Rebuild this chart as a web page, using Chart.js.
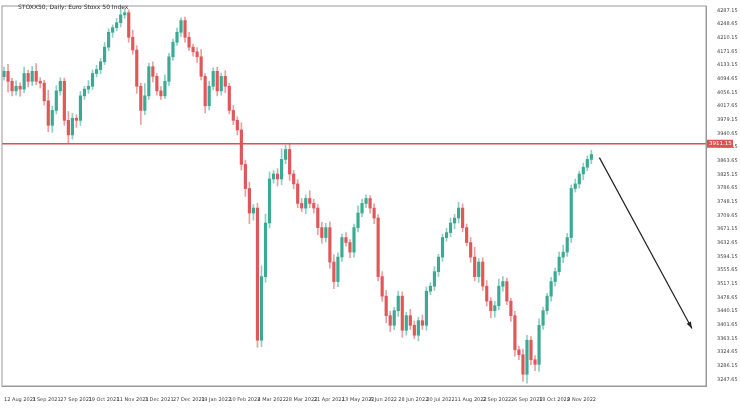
<!DOCTYPE html>
<html><head><meta charset="utf-8">
<script src="https://cdn.jsdelivr.net/npm/chart.js@4/dist/chart.umd.min.js"></script>
<style>
html,body{margin:0;padding:0;background:#fff;}
#wrap{position:relative;width:740px;height:408px;}
#title{position:absolute;left:18px;top:3px;font:6px "DejaVu Sans",sans-serif;color:#333;}
</style></head><body>
<div id="wrap"><canvas id="c" width="740" height="408"></canvas>
<div id="title">STOXX50, Daily: Euro Stoxx 50 Index</div></div>
<script>
const closes=[4115,4087,4060,4073,4065,4109,4087,4115,4087,4082,4032,3963,4005,4060,4087,3977,3936,3983,3977,4046,4065,4073,4109,4120,4142,4183,4225,4238,4252,4274,4280,4211,4175,4073,4005,4046,4128,4101,4060,4046,4087,4156,4197,4225,4258,4211,4183,4170,4156,4101,4018,4073,4115,4060,4101,4073,4005,3977,3950,3853,3785,3716,3730,3358,3537,3688,3812,3826,3812,3867,3895,3826,3798,3743,3730,3757,3743,3730,3675,3647,3675,3578,3523,3592,3647,3633,3606,3675,3716,3743,3757,3730,3702,3537,3482,3427,3400,3441,3482,3386,3427,3400,3372,3413,3400,3496,3510,3551,3592,3647,3661,3688,3702,3730,3675,3633,3592,3537,3578,3510,3468,3441,3455,3510,3523,3468,3427,3331,3317,3262,3358,3303,3290,3400,3441,3482,3523,3551,3592,3606,3647,3785,3798,3826,3845,3867,3881];
const upWick=[12,20,8,15,10,18,9,14,22,10,8,30,12,15,10,9,25,14,10,12,8,16,10,12,9,14,10,8,12,16,10,8,20,12,9,35,10,14,8,12,18,10,9,12,8,10,14,9,12,20,8,14,10,12,9,16,8,14,10,20,12,18,10,14,30,25,20,10,15,30,12,18,10,12,14,10,22,12,10,15,12,16,20,12,10,14,8,10,20,12,10,8,12,10,14,16,12,10,14,12,10,18,12,10,16,12,10,14,8,10,12,14,10,16,12,10,14,28,10,12,16,10,12,20,14,10,8,12,10,16,14,10,12,18,10,8,12,10,14,20,12,10,14,8,12,10,12];
const downWick=[10,30,14,12,20,10,16,12,10,14,12,18,20,10,12,14,25,12,20,14,10,12,9,10,12,8,10,14,9,12,10,14,12,20,40,12,10,16,12,10,8,12,10,9,12,14,10,12,16,10,20,12,10,14,12,18,10,12,14,16,22,30,20,20,18,16,14,12,20,16,12,18,14,12,10,16,12,14,20,16,12,18,20,14,12,10,16,14,12,10,12,14,16,12,14,20,18,12,16,20,14,12,10,16,12,14,10,12,14,12,10,12,16,14,12,10,14,12,16,12,14,20,18,12,14,10,16,18,14,20,25,14,18,20,12,10,14,12,10,16,12,14,10,12,16,10,12];
const tickDates=["12 Aug 2021","3 Sep 2021","27 Sep 2021","19 Oct 2021","11 Nov 2021","3 Dec 2021","27 Dec 2021","19 Jan 2022","10 Feb 2022","4 Mar 2022","28 Mar 2022","21 Apr 2022","13 May 2022","6 Jun 2022","28 Jun 2022","20 Jul 2022","11 Aug 2022","2 Sep 2022","26 Sep 2022","18 Oct 2022","9 Nov 2022"];
const priceTicks=[4287.15,4248.65,4210.15,4171.65,4133.15,4094.65,4056.15,4017.65,3979.15,3940.65,3902.15,3863.65,3825.15,3786.65,3748.15,3709.65,3671.15,3632.65,3594.15,3555.65,3517.15,3478.65,3440.15,3401.65,3363.15,3324.65,3286.15,3247.65];
const resistance=3911.15;
const arrowFrom={slot:148,price:3872};
const arrowTo={slot:171,price:3391};
const totalSlots=175;

const labels=[];for(let i=0;i<totalSlots;i++)labels.push('');
tickDates.forEach((d,i)=>{labels[i*7]=d;});
const opens=closes.map((c,i)=>i===0?4100:closes[i-1]);
const bodies=closes.map((c,i)=>[opens[i],c]);
const wicks=closes.map((c,i)=>[Math.min(c,opens[i])-downWick[i],Math.max(c,opens[i])+upWick[i]]);
const cols=closes.map((c,i)=>c>=opens[i]?'#3aaa94':'#e0575a');
const colsW=closes.map((c,i)=>c>=opens[i]?'#8fcfc2':'#eaa0a2');

const extras={id:'extras',afterDatasetsDraw(ch){
 const {ctx,scales:{x,y},chartArea:a}=ch;
 ctx.save();
 const yy=y.getPixelForValue(resistance);
 ctx.strokeStyle='#d9534f';ctx.lineWidth=1.3;
 ctx.beginPath();ctx.moveTo(a.left,yy);ctx.lineTo(a.right,yy);ctx.stroke();
 ctx.fillStyle='#d9534f';ctx.fillRect(a.right+1,yy-4,26,8);
 ctx.fillStyle='#fff';ctx.font='5.5px "DejaVu Sans"';ctx.textBaseline='middle';
 ctx.fillText(resistance.toFixed(2),a.right+3,yy);
 const x1=x.getPixelForValue(arrowFrom.slot),y1=y.getPixelForValue(arrowFrom.price);
 const x2=x.getPixelForValue(arrowTo.slot),y2=y.getPixelForValue(arrowTo.price);
 ctx.strokeStyle='#222';ctx.lineWidth=1.2;ctx.beginPath();ctx.moveTo(x1,y1);ctx.lineTo(x2,y2);ctx.stroke();
 const ang=Math.atan2(y2-y1,x2-x1);
 ctx.fillStyle='#222';ctx.beginPath();ctx.moveTo(x2,y2);
 ctx.lineTo(x2-7*Math.cos(ang-0.35),y2-7*Math.sin(ang-0.35));
 ctx.lineTo(x2-7*Math.cos(ang+0.35),y2-7*Math.sin(ang+0.35));ctx.closePath();ctx.fill();
 ctx.strokeStyle='#999';ctx.lineWidth=1;ctx.strokeRect(a.left,a.top,a.right-a.left,a.bottom-a.top);
 ctx.restore();
}};

new Chart(document.getElementById('c'),{
 type:'bar',
 data:{labels,datasets:[
  {data:wicks,backgroundColor:colsW,barThickness:1,grouped:false,order:2},
  {data:bodies,backgroundColor:cols,barThickness:2.5,grouped:false,order:1}
 ]},
 options:{responsive:false,animation:false,
  layout:{padding:{left:2,top:2,right:0,bottom:2}},
  plugins:{legend:{display:false},tooltip:{enabled:false}},
  scales:{
   x:{grid:{display:false,drawTicks:true},border:{color:'#999'},
      ticks:{autoSkip:false,maxRotation:0,minRotation:0,align:'start',font:{size:5,family:'DejaVu Sans'},color:'#444',
        callback:(v,i)=>labels[i]}},
   y:{position:'right',min:3229,max:4299,grid:{display:false},border:{color:'#999'},
      afterBuildTicks:s=>{s.ticks=priceTicks.map(v=>({value:v}));},
      ticks:{font:{size:5,family:'DejaVu Sans'},color:'#444',callback:v=>v.toFixed(2)},afterFit:s=>{s.width=34;}}
  }},
 plugins:[extras]
});
</script></body></html>
